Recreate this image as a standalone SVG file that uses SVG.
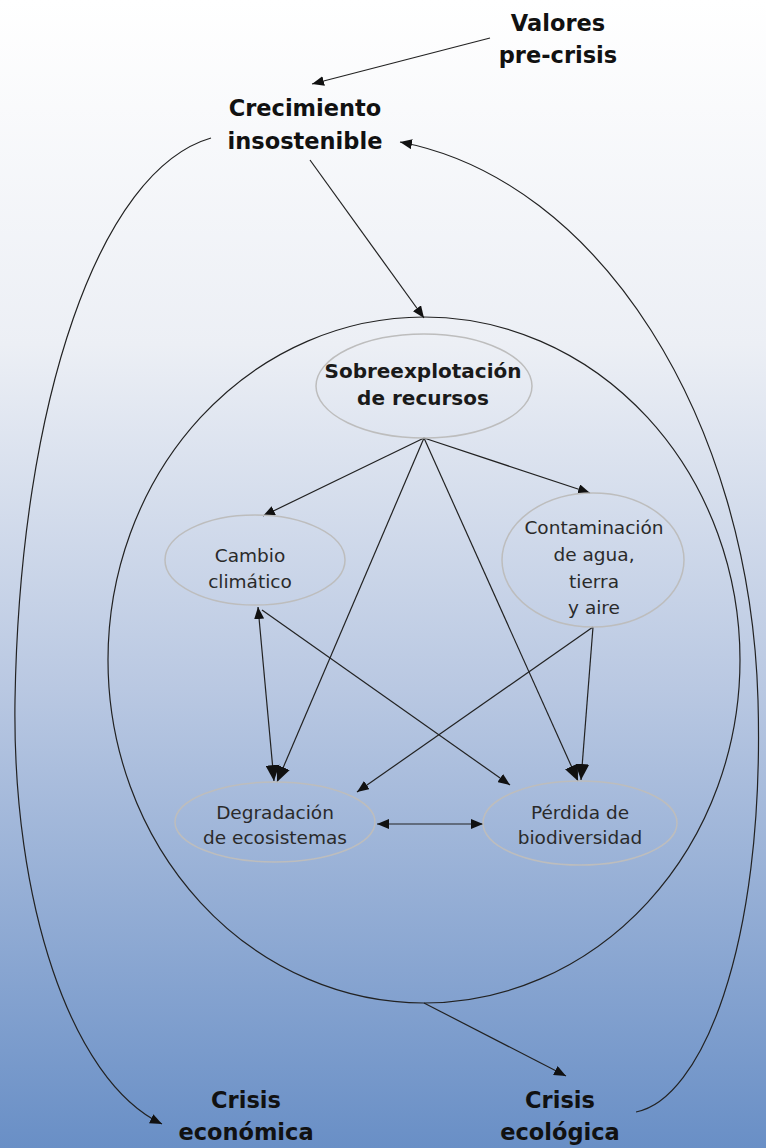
<svg xmlns="http://www.w3.org/2000/svg" width="766" height="1148" viewBox="0 0 766 1148">
<defs>
<linearGradient id="bg" x1="0" y1="0" x2="0" y2="1">
<stop offset="0" stop-color="#ffffff"/>
<stop offset="0.3" stop-color="#eceff5"/>
<stop offset="0.6" stop-color="#b9c8e2"/>
<stop offset="1" stop-color="#698fc6"/>
</linearGradient>
<marker id="ah" viewBox="0 0 12 10" refX="12" refY="5" markerWidth="12" markerHeight="10" markerUnits="userSpaceOnUse" orient="auto-start-reverse">
<path d="M0,0 L12,5 L0,10 Z" fill="#111"/>
</marker>
<marker id="ahb" viewBox="0 0 16 14" refX="16" refY="7" markerWidth="16" markerHeight="14" markerUnits="userSpaceOnUse" orient="auto-start-reverse">
<path d="M0,0 L16,7 L0,14 Z" fill="#111"/>
</marker>
<style>
.t{font-family:"DejaVu Sans",Verdana,sans-serif;font-weight:bold;font-size:22.5px;fill:#111;text-anchor:middle}
.n{font-family:"DejaVu Sans",Verdana,sans-serif;font-size:18.5px;fill:#2a2a2a;text-anchor:middle}
.nb{font-family:"DejaVu Sans",Verdana,sans-serif;font-weight:bold;font-size:20px;fill:#1a1a1a;text-anchor:middle}
.e{fill:none;stroke:#bdbdbd;stroke-width:1.5}
.c{fill:none;stroke:#222;stroke-width:1.2}
</style>
</defs>
<rect width="766" height="1148" fill="url(#bg)"/>

<g id="connectors">
<line class="c" x1="490" y1="38" x2="312" y2="84" marker-end="url(#ah)"/>
<line class="c" x1="310" y1="160" x2="424" y2="318" marker-end="url(#ah)"/>
<path class="c" d="M211,138 C100,170 20,400 15,700 C12,900 70,1080 162,1124" marker-end="url(#ah)"/>
<path class="c" d="M636,1112 C700,1100 765,950 758,700 C750,420 600,180 400,142" marker-end="url(#ah)"/>
<line class="c" x1="424" y1="1003" x2="566" y2="1076" marker-end="url(#ah)"/>
<line class="c" x1="424" y1="438" x2="263" y2="516" marker-end="url(#ah)"/>
<line class="c" x1="424" y1="438" x2="590" y2="493" marker-end="url(#ah)"/>
<line class="c" x1="424" y1="438" x2="277" y2="782" marker-end="url(#ahb)"/>
<line class="c" x1="424" y1="438" x2="578" y2="781" marker-end="url(#ahb)"/>
<line class="c" x1="258" y1="607" x2="274" y2="781" marker-start="url(#ah)" marker-end="url(#ahb)"/>
<line class="c" x1="262" y1="610" x2="510" y2="785" marker-end="url(#ah)"/>
<line class="c" x1="593" y1="627" x2="357" y2="792" marker-end="url(#ah)"/>
<line class="c" x1="593" y1="627" x2="581" y2="780" marker-end="url(#ahb)"/>
<line class="c" x1="377" y1="824" x2="483" y2="824" marker-start="url(#ah)" marker-end="url(#ah)"/>
</g>

<g id="crisis-boundary">
<ellipse cx="424" cy="660" rx="316" ry="343" fill="none" stroke="#222" stroke-width="1.2"/>
</g>

<g id="valores">
<text class="t" x="558" y="31">Valores</text>
<text class="t" x="558" y="63">pre-crisis</text>
</g>
<g id="crecimiento">
<text class="t" x="305" y="116">Crecimiento</text>
<text class="t" x="305" y="149">insostenible</text>
</g>
<g id="sobreexplotacion">
<ellipse class="e" cx="424" cy="386" rx="108" ry="52"/>
<text class="nb" x="423" y="378">Sobreexplotación</text>
<text class="nb" x="423" y="405">de recursos</text>
</g>
<g id="cambio">
<ellipse class="e" cx="255" cy="560" rx="90" ry="45"/>
<text class="n" x="250" y="562">Cambio</text>
<text class="n" x="250" y="588">climático</text>
</g>
<g id="contaminacion">
<ellipse class="e" cx="593" cy="560" rx="91" ry="67"/>
<text class="n" x="594" y="534">Contaminación</text>
<text class="n" x="594" y="561">de agua,</text>
<text class="n" x="594" y="588">tierra</text>
<text class="n" x="594" y="614">y aire</text>
</g>
<g id="degradacion">
<ellipse class="e" cx="275" cy="822" rx="100" ry="40"/>
<text class="n" x="275" y="819">Degradación</text>
<text class="n" x="275" y="844">de ecosistemas</text>
</g>
<g id="perdida">
<ellipse class="e" cx="580" cy="823" rx="97" ry="42"/>
<text class="n" x="580" y="819">Pérdida de</text>
<text class="n" x="580" y="844">biodiversidad</text>
</g>
<g id="crisis-economica">
<text class="t" x="246" y="1108">Crisis</text>
<text class="t" x="246" y="1140">económica</text>
</g>
<g id="crisis-ecologica">
<text class="t" x="560" y="1108">Crisis</text>
<text class="t" x="560" y="1140">ecológica</text>
</g>
</svg>
